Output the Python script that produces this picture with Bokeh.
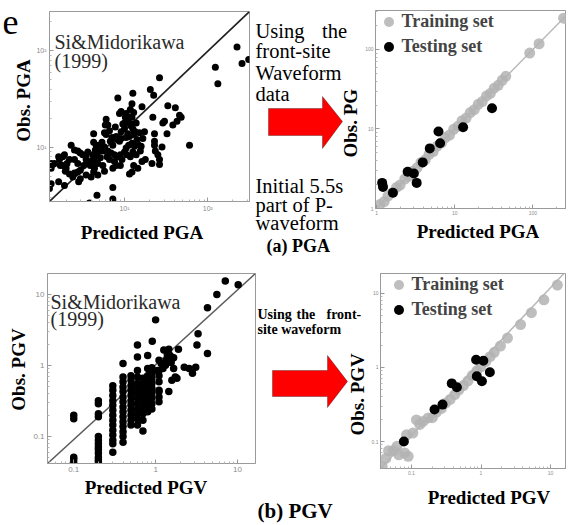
import math
import numpy as np
from bokeh.plotting import figure
from bokeh.layouts import column, row
from bokeh.models import Label, PolyAnnotation, Legend, LegendItem, Range1d, FixedTicker
from bokeh.embed import file_html
from bokeh.resources import INLINE

SERIF = "Liberation Serif, DejaVu Serif, serif"

# ------------------------------------------------------------------ data
# (a) PGA - Si & Midorikawa (1999): log10(predicted PGA), log10(observed PGA)
si_pga_pred_log10 = [
    2.35, 2.49, 2.41, 2.09, 2.12, 1.42, 1.31, 1.10, 0.92, 1.35,
    1.21, 1.09, 1.07, 1.52, 1.61, 1.66, 1.68, 1.63, 1.34, 0.96,
    1.01, 0.78, 0.77, 0.89, 1.11, 1.09, 1.05, 1.08, 1.10, 1.13,
    1.04, 1.00, 0.96, 0.82, 0.76, 0.78, 0.63, 0.73, 0.70, 0.66,
    0.63, 0.65, 0.68, 0.67, 0.71, 0.74, 0.76, 0.83, 0.86, 0.85,
    0.90, 0.91, 0.94, 0.96, 1.02, 1.06, 1.11, 1.15, 1.18, 1.24,
    1.22, 1.16, 1.12, 1.09, 1.05, 1.02, 1.00, 0.95, 0.92, 0.88,
    0.84, 0.80, 0.79, 0.82, 0.88, 0.90, 0.86, 0.95, 0.97, 1.03,
    1.07, 1.10, 1.14, 1.19, 1.20, 1.11, 1.09, 1.06, 1.21, 1.16,
    1.36, 1.46, 1.48, 1.36, 1.36, 1.37, 1.40, 1.42, 1.45, 1.51,
    1.58, 1.78, 1.42, 1.33, 1.25, 0.64, 0.63, 0.59, 0.61, 0.54,
    0.51, 0.47, 0.44, 0.45, 0.47, 0.40, 0.34, 0.30, 0.29, 0.26,
    0.23, 0.21, 0.22, 0.26, 0.28, 0.36, 0.40, 0.44, 0.47, 0.50,
    0.54, 0.56, 0.44, 0.40, 0.34, 0.31, 0.12, 0.14, 0.21, 0.12,
    0.10, 0.28, 0.38, 0.54, 0.67, 0.86, 0.86, 0.58, 0.12, 0.16,
    0.64, 0.68, 0.74, 0.76, 0.68, 0.60, 0.62, 0.56, 0.80, 0.94,
    1.02, 1.06, 1.14, 1.09, 1.00, 0.98,
]
si_pga_obs_log10 = [
    2.04, 1.91, 1.87, 1.83, 1.66, 1.72, 1.60, 1.56, 1.51, 1.54,
    1.42, 1.45, 1.39, 1.43, 1.41, 1.33, 1.31, 1.27, 1.31, 1.37,
    1.31, 1.29, 1.23, 1.21, 1.36, 1.31, 1.25, 1.22, 1.19, 1.16,
    1.14, 1.19, 1.16, 1.17, 1.15, 1.13, 1.14, 1.05, 1.02, 1.02,
    1.05, 0.97, 0.96, 0.91, 0.89, 0.96, 1.00, 1.06, 1.02, 1.10,
    1.11, 1.08, 1.06, 1.09, 1.10, 1.11, 1.13, 1.08, 1.15, 1.16,
    1.09, 1.03, 1.01, 1.04, 1.02, 0.99, 0.95, 0.92, 0.90, 0.92,
    0.94, 0.96, 0.90, 0.87, 0.85, 0.81, 0.78, 0.81, 0.87, 0.92,
    0.90, 0.95, 0.92, 0.96, 1.01, 0.81, 0.74, 0.72, 0.85, 0.78,
    1.14, 1.25, 1.27, 1.06, 1.02, 0.96, 0.92, 0.87, 1.00, 1.14,
    1.23, 1.02, 0.82, 0.83, 0.87, 0.78, 0.74, 0.81, 0.86, 0.87,
    0.81, 0.76, 0.74, 0.64, 0.67, 0.73, 0.72, 0.78, 0.75, 0.81,
    0.81, 0.90, 0.87, 0.90, 0.92, 1.02, 0.97, 0.96, 0.94, 0.92,
    0.91, 0.95, 0.83, 0.87, 0.87, 0.83, 0.83, 0.82, 0.64, 0.62,
    0.57, 0.60, 0.69, 0.71, 0.50, 0.58, 0.46, 0.42, 0.78, 0.83,
    0.85, 0.83, 0.81, 0.75, 0.71, 0.69, 0.92, 0.83, 1.23, 1.35,
    1.35, 1.31, 1.25, 1.24, 1.25, 1.24,
]

# (a) PGA - proposed model (front-site waveform, initial 5.5 s)
pga_train_pred = [1.1, 1.25, 1.4, 1.6, 1.8, 2.0, 2.3, 2.6, 2.9, 3.3, 3.7, 4.2,
                  4.7, 5.3, 6.0, 6.8, 7.6, 8.6, 9.7, 11, 12.4, 14, 15.8, 17.8,
                  20, 22.5, 25.5, 28.5, 32, 36, 40.5, 45, 91, 120, 247]
pga_train_obs = [1.12, 1.22, 1.43, 1.58, 1.84, 1.97, 2.35, 2.55, 2.95, 3.25, 3.8, 4.1,
                 4.8, 5.2, 6.1, 6.7, 7.8, 8.4, 9.9, 10.8, 12.7, 13.7, 16.1, 17.5,
                 20.4, 22.1, 26, 28, 32.6, 35.4, 41, 46, 90, 118, 247]
pga_test_pred = [1.18, 1.21, 1.62, 2.5, 3.0, 3.26, 3.9, 4.8, 6.2, 6.5, 12.8, 30]
pga_test_obs = [2.1, 1.87, 1.58, 2.9, 2.76, 2.1, 3.8, 5.7, 9.3, 6.6, 10.5, 18.2]

# (b) PGV - Si & Midorikawa (1999)
si_pgv_pred = ([0.1] * 6 + [0.2] * 13 + [0.3] * 14 + [0.4] * 15 + [0.5] * 11 +
               [0.6] * 13 + [0.7] * 10 + [0.8] * 10 + [0.9] * 9 + [1.1] * 8 +
               [7.1, 10.2, 5.6, 4.3, 1.0, 3.3, 3.2, 4.3, 0.91, 1.26, 1.45, 1.9,
                1.66, 1.35, 1.17, 1.32, 1.55, 1.23, 1.05, 1.66, 2.24, 2.57, 3.09,
                2.82, 1.74, 1.82, 1.58, 1.45, 1.39, 1.5])
si_pgv_obs = [0.2, 0.178, 0.051, 0.047, 0.042, 0.039,
              0.32, 0.29, 0.21, 0.19, 0.1, 0.089, 0.079, 0.071, 0.065, 0.058, 0.051, 0.047, 0.044,
              0.52, 0.45, 0.38, 0.32, 0.275, 0.235, 0.2, 0.17, 0.145, 0.123, 0.105, 0.089, 0.079, 0.06,
              1.07, 0.69, 0.59, 0.5, 0.43, 0.36, 0.31, 0.26, 0.224, 0.19, 0.162, 0.138, 0.117, 0.1, 0.083,
              0.72, 0.62, 0.52, 0.45, 0.38, 0.32, 0.275, 0.235, 0.2, 0.17, 0.145,
              1.95, 1.32, 0.85, 0.69, 0.56, 0.48, 0.41, 0.35, 0.29, 0.245, 0.21, 0.178, 0.145,
              0.66, 0.56, 0.48, 0.41, 0.35, 0.29, 0.245, 0.21, 0.17, 0.12,
              1.38, 0.91, 0.72, 0.59, 0.5, 0.43, 0.36, 0.31, 0.26, 0.224,
              0.93, 0.78, 0.66, 0.56, 0.48, 0.41, 0.35, 0.29, 0.245,
              1.19, 0.85, 0.72, 0.59, 0.45, 0.43, 0.36, 0.31,
              15.5, 13.8, 10, 6.5, 4.4, 2.8, 1.95, 1.48, 2.2, 1.66, 1.7, 1.7,
              1.29, 1.19, 1.07, 1.01, 1.1, 0.91, 0.85, 0.91, 0.95, 0.91, 0.95,
              0.78, 0.69, 0.66, 0.62, 0.43, 1.43, 1.38]

# (b) PGV - proposed model
pgv_train_pred = [0.038, 0.043, 0.047, 0.055, 0.062, 0.066, 0.08, 0.09, 0.085, 0.105,
                  0.118, 0.132, 0.147, 0.174, 0.2, 0.23, 0.27, 0.31, 0.36, 0.42,
                  0.48, 0.56, 0.65, 0.75, 0.87, 1.0, 1.17, 1.35, 1.55, 1.9, 2.4,
                  3.7, 5.3, 8.0, 12.5]
pgv_train_obs = [0.046, 0.059, 0.075, 0.075, 0.086, 0.066, 0.07, 0.063, 0.123, 0.13,
                 0.196, 0.17, 0.187, 0.208, 0.21, 0.25, 0.28, 0.33, 0.37, 0.43,
                 0.5, 0.57, 0.66, 0.78, 0.9, 1.02, 1.2, 1.4, 1.6, 1.95, 2.5,
                 3.8, 5.5, 8.2, 13]
pgv_test_pred = [0.078, 0.215, 0.28, 0.38, 0.45, 0.85, 1.08, 0.87, 1.03, 1.34]
pgv_test_obs = [0.1, 0.27, 0.315, 0.61, 0.54, 1.27, 1.23, 0.76, 0.65, 0.86]

# axis limits and 1:1 reference lines
pga_si_xlim, pga_si_ylim = (1.26, 316.0), (2.72, 257.0)
pga_nn_xlim, pga_nn_ylim = (0.97, 269.0), (1.0, 309.0)
pgv_si_xlim, pgv_si_ylim = (0.0478, 16.6), (0.0417, 19.8)
pgv_nn_xlim, pgv_nn_ylim = (0.036, 16.9), (0.0432, 18.6)
diag_pga_si = ([1.26, 316.0], [2.72, 257.0])
diag_pga_nn = ([0.9, 400.0], [0.9, 400.0])
diag_pgv_si = ([0.0478, 16.6], [0.0417, 19.8])
diag_pgv_nn = ([0.03, 20.0], [0.036, 24.0])

# ticks and tick labels
pga_major = [1, 10, 100]
pgv_major = [0.1, 1, 10]
pga_si_ticks = {10: "10\u00b9", 100: "10\u00b2"}
pga_nn_ticks = {1: "1", 10: "10", 100: "100"}
pgv_ticks = {0.1: "0.1", 1: "1", 10: "10"}

# ------------------------------------------------------------------ layout specs
# ox, oy: figure position on the page; L/R/T/B: borders round the frame
A1 = dict(ox=33, oy=0, w=217, h=215, L=15, R=1, T=11, B=14)
R1 = dict(ox=362, oy=0, w=204, h=217, L=11, R=0, T=10, B=9)
B1 = dict(ox=30, oy=258, w=226, h=219, L=17, R=1, T=15, B=14)
R2 = dict(ox=368, oy=258, w=198, h=219, L=11, R=0, T=15, B=9)
for s in (A1, R1, B1, R2):
    s["fl"] = s["ox"] + s["L"]
    s["fb"] = s["oy"] + s["h"] - s["B"]


def make_fig(s, xlim, ylim, major, ticks, tick_size, standoff):
    p = figure(width=s["w"], height=s["h"], x_axis_type="log", y_axis_type="log",
               x_range=Range1d(*xlim), y_range=Range1d(*ylim),
               toolbar_location=None, output_backend="svg",
               min_border_left=s["L"], min_border_right=s["R"],
               min_border_top=s["T"], min_border_bottom=s["B"])
    p.grid.visible = False
    p.outline_line_color = "#9a9a9a"
    p.background_fill_color = "white"
    p.border_fill_color = "white"
    minor = [m * t for t in major for m in range(2, 10)] + [m * major[0] / 10 for m in range(2, 10)]
    for ax in (p.xaxis[0], p.yaxis[0]):
        ax.ticker = FixedTicker(ticks=major, minor_ticks=minor)
        ax.axis_line_color = "#9a9a9a"
        ax.major_tick_in = 4
        ax.major_tick_out = 0
        ax.minor_tick_in = 2
        ax.minor_tick_out = 0
        ax.major_tick_line_color = "#9a9a9a"
        ax.minor_tick_line_color = "#b5b5b5"
        ax.major_label_overrides = ticks
        ax.major_label_text_font = "Liberation Sans"
        ax.major_label_text_font_size = f"{tick_size}px"
        ax.major_label_text_color = "#8c8c8c"
        ax.major_label_standoff = standoff
    return p


def blank(ox, oy, w, h):
    p = figure(width=w, height=h, x_range=Range1d(0, w), y_range=Range1d(0, h),
               toolbar_location=None, output_backend="svg", min_border=0,
               x_axis_location=None, y_axis_location=None)
    p.outline_line_color = None
    p.grid.visible = False
    p.background_fill_color = "white"
    p.border_fill_color = "white"
    return p, dict(fl=ox, fb=oy + h)


def txt(p, s, rx, ry, text, size, bold=False, align="left", baseline="alphabetic",
        angle=0.0, color="black", font=SERIF):
    p.add_layout(Label(x=rx - s["fl"], y=s["fb"] - ry, x_units="screen", y_units="screen",
                       text=text, text_font=font, text_font_size=f"{size}px",
                       text_font_style="bold" if bold else "normal",
                       text_align=align, text_baseline=baseline, angle=angle,
                       text_color=color))


def arrow(p, s, pts):
    p.add_layout(PolyAnnotation(xs=[x - s["fl"] for x, _ in pts],
                                ys=[s["fb"] - y for _, y in pts],
                                xs_units="screen", ys_units="screen",
                                fill_color="#ff0000", fill_alpha=1.0,
                                line_color="black", line_width=1))


def legend(p, s, rx, ry_bottom, tr, te):
    # (x, y): bottom-left corner of the legend, relative to the frame
    lg = Legend(items=[LegendItem(label="Training set", renderers=[tr]),
                       LegendItem(label="Testing set", renderers=[te])],
                location=(rx - s["fl"], s["fb"] - ry_bottom),
                glyph_width=25, glyph_height=25, label_height=25, label_standoff=1,
                spacing=0, padding=0, margin=0, border_line_color=None,
                background_fill_alpha=0, label_text_font=SERIF,
                label_text_font_style="bold", label_text_font_size="18px")
    p.add_layout(lg)


VERT = math.pi / 2

# ======================= row (a) PGA
pa = make_fig(A1, pga_si_xlim, pga_si_ylim, pga_major, pga_si_ticks, 7, 3)
pa.line(diag_pga_si[0], diag_pga_si[1], line_color="#202020", line_width=1.6)
pa.scatter(10 ** np.array(si_pga_pred_log10), 10 ** np.array(si_pga_obs_log10),
           size=7, fill_color="black", line_color=None)
txt(pa, A1, 53, 41, "Si&Midorikawa", 20, color="#2a2a2a")
txt(pa, A1, 53, 60, "(1999)", 20, color="#2a2a2a")

ta_left, sa_left = blank(0, 0, 33, 215)
txt(ta_left, sa_left, 2, 35, "e", 36)
txt(ta_left, sa_left, 23, 114, "Obs. PGA", 19, bold=True, align="center",
    baseline="middle", angle=VERT)

ta_bot, sa_bot = blank(0, 215, 250, 43)
txt(ta_bot, sa_bot, 141.5, 232, "Predicted PGA", 19, bold=True, align="center")

m1, sm1 = blank(250, 0, 112, 258)
txt(m1, sm1, 255, 30.7, "Using", 20.5)
txt(m1, sm1, 346.5, 30.7, "the", 20.5, align="right")
txt(m1, sm1, 255, 50.7, "front-site", 20.5)
txt(m1, sm1, 255, 72.3, "Waveform", 20.5)
txt(m1, sm1, 255, 93.3, "data", 20.5)
txt(m1, sm1, 255, 185.7, "Initial 5.5s", 20.5)
txt(m1, sm1, 255, 204, "part of P-", 20.5)
txt(m1, sm1, 255, 222.3, "waveform", 20.5)
txt(m1, sm1, 266, 245.7, "(a) PGA", 18, bold=True)
arrow(m1, sm1, [(268, 108), (322, 108), (322, 96), (342, 121), (322, 148), (322, 135), (268, 135)])
txt(m1, sm1, 350, 157, "Obs. PG", 19, bold=True, align="left", baseline="middle", angle=VERT)

pb = make_fig(R1, pga_nn_xlim, pga_nn_ylim, pga_major, pga_nn_ticks, 5, 2)
pb.line(diag_pga_nn[0], diag_pga_nn[1], line_color="#b8b8b8", line_width=1.5)
tr1 = pb.scatter(pga_train_pred, pga_train_obs, size=11, fill_color="#b3b3b3",
                 fill_alpha=0.85, line_color=None)
te1 = pb.scatter(pga_test_pred, pga_test_obs, size=10, fill_color="black", line_color=None)
legend(pb, R1, 373.5, 58.5, tr1, te1)

tr_bot, sr_bot = blank(362, 217, 204, 41)
txt(tr_bot, sr_bot, 464.5, 231, "Predicted PGA", 19, bold=True, align="center")

# ======================= row (b) PGV
pc = make_fig(B1, pgv_si_xlim, pgv_si_ylim, pgv_major, pgv_ticks, 8, 3)
pc.line(diag_pgv_si[0], diag_pgv_si[1], line_color="#5a5a5a", line_width=1.5)
pc.scatter(si_pgv_pred, si_pgv_obs, size=7.5, fill_color="black", line_color=None)
txt(pc, B1, 50, 301.5, "Si&Midorikawa", 20, color="#2a2a2a")
txt(pc, B1, 50, 318.3, "(1999)", 20, color="#2a2a2a")

tb_left, sb_left = blank(0, 258, 30, 219)
txt(tb_left, sb_left, 17.5, 383, "Obs. PGV", 19, bold=True, align="center",
    baseline="middle", angle=VERT)

tb_bot, sb_bot = blank(0, 477, 256, 46)
txt(tb_bot, sb_bot, 145.5, 487, "Predicted PGV", 19, bold=True, align="center")

m2, sm2 = blank(256, 258, 112, 265)
txt(m2, sm2, 257, 314, "Using", 14, bold=True)
txt(m2, sm2, 296, 314, "the", 14, bold=True)
txt(m2, sm2, 326, 314, "front-", 14, bold=True)
txt(m2, sm2, 257, 329, "site waveform", 14, bold=True)
arrow(m2, sm2, [(272, 370), (327, 370), (327, 355), (347, 381), (327, 407), (327, 396), (272, 396)])
txt(m2, sm2, 357, 435, "Obs. PGV", 19, bold=True, align="left", baseline="middle", angle=VERT)
txt(m2, sm2, 257, 510, "(b) PGV", 21, bold=True)

pd = make_fig(R2, pgv_nn_xlim, pgv_nn_ylim, pgv_major, pgv_ticks, 5, 2)
pd.line(diag_pgv_nn[0], diag_pgv_nn[1], line_color="#b8b8b8", line_width=1.5)
tr2 = pd.scatter(pgv_train_pred, pgv_train_obs, size=11, fill_color="#b3b3b3",
                 fill_alpha=0.85, line_color=None)
te2 = pd.scatter(pgv_test_pred, pgv_test_obs, size=10, fill_color="black", line_color=None)
legend(pd, R2, 384.5, 321.5, tr2, te2)

tr2_bot, sr2_bot = blank(368, 477, 198, 46)
txt(tr2_bot, sr2_bot, 476.5, 497, "Predicted PGV", 19, bold=True, align="center")

row_a = row(column(row(ta_left, pa), ta_bot), m1, column(pb, tr_bot))
row_b = row(column(row(tb_left, pc), tb_bot), m2, column(pd, tr2_bot))
layout = column(row_a, row_b)
open("out.html", "w").write(file_html(layout, INLINE, "PGA PGV"))
